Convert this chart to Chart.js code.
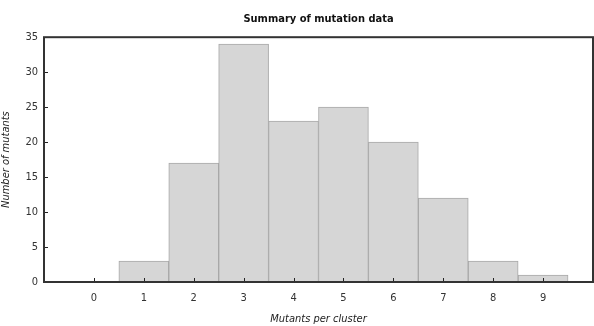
<!DOCTYPE html>
<html><head><meta charset="utf-8">
<script src="https://cdn.jsdelivr.net/npm/chart.js@4/dist/chart.umd.min.js"></script>
<style>html,body{margin:0;padding:0;background:#fff}#w{width:594px;height:326px}</style>
</head><body><div id="w"><canvas id="c"></canvas></div>
<script>
const mutantsPerCluster = [0,1,2,3,4,5,6,7,8,9];
const numberOfMutants = [0,3,17,34,23,25,20,12,3,1];
const yTicks = [0,5,10,15,20,25,30,35];
const FONT = "'Liberation Sans Narrow','DejaVu Sans Condensed',sans-serif";

const frame = {
  id:'frame',
  afterDatasetsDraw(chart){
    const {ctx, chartArea:a, scales:{x,y}} = chart;
    ctx.save();
    ctx.strokeStyle='#222';
    ctx.lineWidth=1;
    ctx.beginPath();
    mutantsPerCluster.forEach(v=>{const px=Math.round(x.getPixelForValue(v))+0.5;ctx.moveTo(px,a.bottom);ctx.lineTo(px,a.bottom-4);});
    yTicks.forEach(v=>{const py=Math.round(y.getPixelForValue(v))+0.5;ctx.moveTo(a.left,py);ctx.lineTo(a.left+4,py);});
    ctx.stroke();
    ctx.strokeStyle='#333';
    ctx.lineWidth=2;
    ctx.strokeRect(a.left,a.top,a.right-a.left,a.bottom-a.top);
    ctx.restore();
  }
};

new Chart(document.getElementById('c'),{
  type:'bar',
  data:{datasets:[{
    data:mutantsPerCluster.map((v,i)=>({x:v,y:numberOfMutants[i]})),
    backgroundColor:'#d6d6d6',
    borderColor:'#a8a8a8',
    borderWidth:1,
    barPercentage:1,
    categoryPercentage:1
  }]},
  options:{
    responsive:true,maintainAspectRatio:false,animation:false,
    layout:{padding:{left:0,right:1,top:0,bottom:0}},
    plugins:{
      legend:{display:false},tooltip:{enabled:false},
      title:{display:true,fullSize:false,text:'Summary of mutation data',color:'#111',
        font:{family:FONT,size:11,weight:'bold'},padding:{top:13,bottom:11}}
    },
    scales:{
      x:{type:'linear',min:-1,max:10,offset:false,
        afterFit(s){s.height=44;s.paddingLeft=0;s.paddingRight=0;},
        grid:{display:false,drawTicks:false,offset:false},border:{display:false},
        ticks:{stepSize:1,autoSkip:false,maxRotation:0,padding:10,color:'#333',font:{family:FONT,size:11},
          callback:(v)=> (v>=0&&v<=9)?String(v):''},
        title:{display:true,text:'Mutants per cluster',color:'#222',font:{family:FONT,size:11,style:'italic'},padding:{top:2,bottom:0}}
      },
      y:{min:0,max:35,
        afterFit(s){s.width=44;s.paddingTop=0;s.paddingBottom=0;},
        afterBuildTicks(s){s.ticks=yTicks.map(v=>({value:v}));},
        grid:{display:false,drawTicks:false},border:{display:false},
        ticks:{padding:6,color:'#333',font:{family:FONT,size:11}},
        title:{display:true,text:'Number of mutants',color:'#222',font:{family:FONT,size:11,style:'italic'},padding:{top:0,bottom:2}}
      }
    }
  },
  plugins:[frame]
});
</script></body></html>
